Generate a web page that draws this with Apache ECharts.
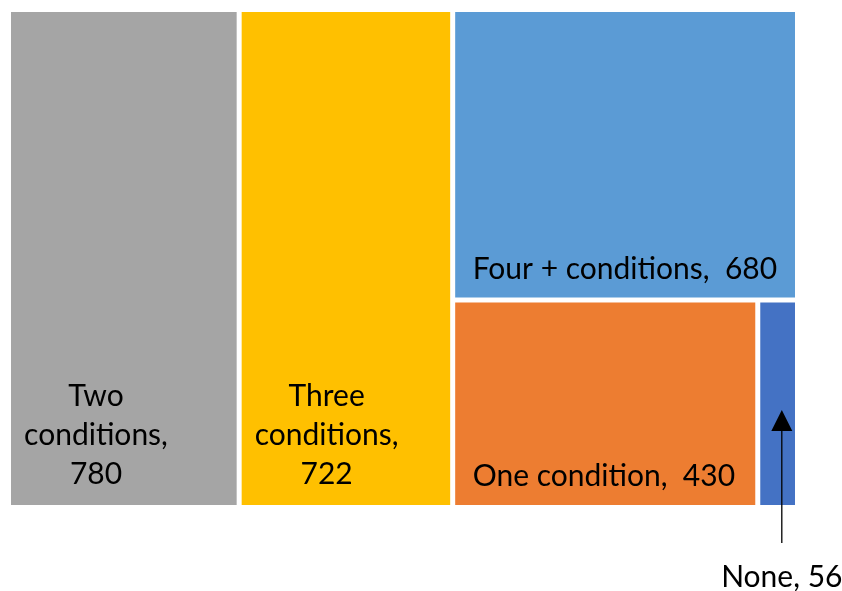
<!DOCTYPE html>
<html>
<head>
<meta charset="utf-8">
<script src="https://cdn.jsdelivr.net/npm/echarts@6/dist/echarts.min.js"></script>
<style>
  html, body { margin: 0; padding: 0; background: #fff; }
  #chart { width: 842px; height: 591px; }
</style>
</head>
<body>
<div id="chart"></div>
<script>
// Patients grouped by number of chronic conditions
const categories = ['Two conditions', 'Three conditions', 'Four + conditions', 'One condition', 'None'];
const counts = [780, 722, 680, 430, 56];
const colors = ['#A5A5A5', '#FFC000', '#5B9BD5', '#ED7D31', '#4472C4'];

const FONT = 'Lato';
const FONT_SIZE = 30;
const LINE_H = 39;
const labelBase = { show: true, color: '#000', fontFamily: FONT, fontSize: FONT_SIZE, lineHeight: LINE_H };

// Tall tiles get a stacked three-line label, wide tiles a single line; the
// smallest tile is labelled outside with an arrow.
function labelFor(i) {
  const name = categories[i];
  const v = counts[i];
  if (i < 2) {
    const words = name.split(' ');
    return Object.assign({}, labelBase, {
      formatter: words[0] + '\n' + words[1] + ',\n' + v,
      position: [85, '100%'], offset: [0, -133],
      align: 'center', verticalAlign: 'top'
    });
  }
  if (i < 4) {
    return Object.assign({}, labelBase, {
      formatter: name + ',  ' + v,
      position: [12.5, '100%'], offset: [0, -53],
      align: 'left', verticalAlign: 'top'
    });
  }
  return { show: false };
}

const chart = echarts.init(document.getElementById('chart'), null, { renderer: 'canvas' });

const option = {
  animation: false,
  series: [{
    type: 'treemap',
    left: 11, top: 12, width: 784, height: 493,
    roam: false,
    nodeClick: false,
    silent: true,
    breadcrumb: { show: false },
    squareRatio: 0.3,
    sort: 'desc',
    levels: [{ itemStyle: { gapWidth: 5, borderWidth: 0, borderColor: '#fff' } }],
    itemStyle: { borderWidth: 0, gapWidth: 5, borderColor: '#fff' },
    data: categories.map((n, i) => ({
      name: n,
      value: counts[i],
      itemStyle: { color: colors[i] },
      label: labelFor(i)
    }))
  }]
};
chart.setOption(option);

// Callout for the smallest tile, placed from the tile's computed layout
(function () {
  const idx = categories.length - 1;
  try {
    const sm = chart.getModel().getSeriesByIndex(0);
    const data = sm.getData();
    const di = data.indexOfName(categories[idx]);
    const lay = data.getItemLayout(di);
    const rootLay = (data.tree && data.tree.root && data.tree.root.getLayout()) || { x: 0, y: 0 };
    const info = sm.layoutInfo || { x: 11, y: 12 };
    const x0 = info.x + (rootLay.x || 0) + lay.x;
    const y0 = info.y + (rootLay.y || 0) + lay.y;
    const cx = x0 + lay.width * 0.62;
    const bottom = y0 + lay.height;
    chart.setOption({
      graphic: [
        { type: 'line', silent: true, z: 100, shape: { x1: cx, y1: bottom + 38, x2: cx, y2: bottom - 76 },
          style: { stroke: '#000', lineWidth: 1.3 } },
        { type: 'polygon', silent: true, z: 100,
          shape: { points: [[cx, bottom - 95], [cx - 10.5, bottom - 74], [cx + 10.5, bottom - 74]] },
          style: { fill: '#000' } },
        { type: 'text', silent: true, z: 100, x: cx, y: bottom + 72,
          style: { text: categories[idx] + ', ' + counts[idx], fill: '#000',
                   font: FONT_SIZE + 'px ' + FONT, align: 'center', verticalAlign: 'middle' } }
      ]
    });
  } catch (e) { console.error(e); }
})();
</script>
</body>
</html>
